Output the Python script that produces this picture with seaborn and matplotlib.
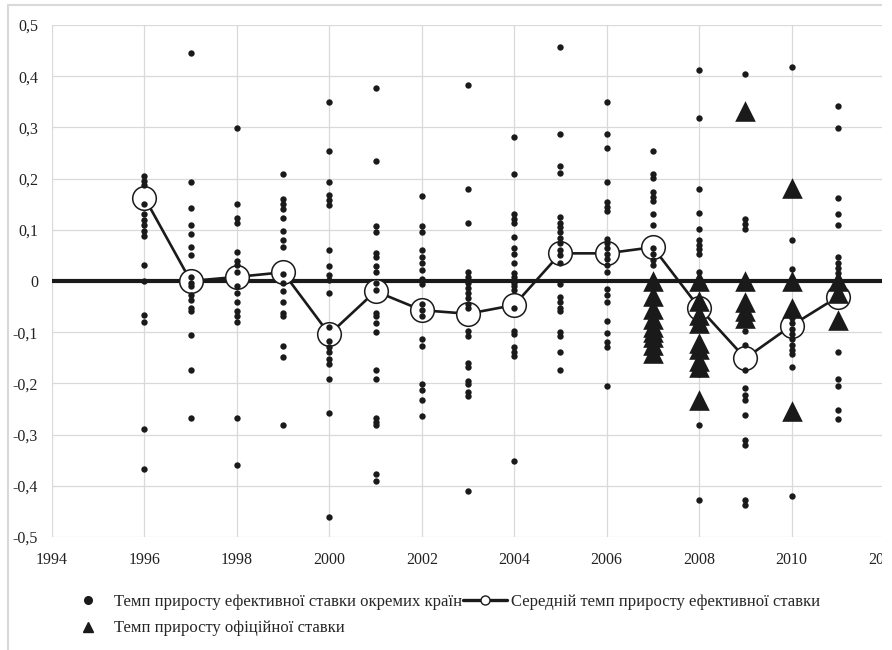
import pandas as pd
import numpy as np
import seaborn as sns
import matplotlib.pyplot as plt
from matplotlib.lines import Line2D
from matplotlib.patches import Rectangle
from matplotlib.ticker import MultipleLocator, FuncFormatter

## Data
# growth rate of the effective rate, individual countries (dots)
r1996 = [0.205, 0.196, 0.187, 0.151, 0.13, 0.119, 0.109, 0.098, 0.088, 0.032, 0.0, -0.066, -0.08, -0.289, -0.368]
r1997 = [0.446, 0.193, 0.142, 0.11, 0.091, 0.067, 0.05, 0.008, -0.003, -0.01, -0.027, -0.038, -0.052, -0.059, -0.106, -0.174, -0.268]
r1998 = [0.299, 0.151, 0.123, 0.114, 0.057, 0.039, 0.032, 0.018, -0.01, -0.024, -0.041, -0.059, -0.069, -0.08, -0.268, -0.359]
r1999 = [0.209, 0.161, 0.151, 0.14, 0.123, 0.098, 0.081, 0.067, 0.013, -0.003, -0.02, -0.041, -0.062, -0.069, -0.127, -0.148, -0.282]
r2000 = [0.349, 0.254, 0.194, 0.168, 0.159, 0.149, 0.061, 0.029, 0.011, 0.001, -0.024, -0.089, -0.118, -0.128, -0.139, -0.153, -0.163, -0.191, -0.258, -0.46]
r2001 = [0.376, 0.234, 0.107, 0.096, 0.054, 0.046, 0.029, 0.018, -0.003, -0.017, -0.062, -0.069, -0.083, -0.1, -0.174, -0.191, -0.268, -0.275, -0.282, -0.376, -0.39]
r2002 = [0.166, 0.107, 0.096, 0.06, 0.047, 0.036, 0.022, 0.004, -0.006, -0.045, -0.057, -0.069, -0.113, -0.127, -0.202, -0.212, -0.232, -0.263]
r2003 = [0.383, 0.18, 0.114, 0.018, 0.008, -0.003, -0.013, -0.024, -0.034, -0.045, -0.052, -0.097, -0.107, -0.16, -0.167, -0.195, -0.202, -0.216, -0.225, -0.41]
r2004 = [0.281, 0.209, 0.13, 0.121, 0.114, 0.086, 0.064, 0.053, 0.036, 0.015, 0.008, -0.003, -0.01, -0.017, -0.052, -0.097, -0.104, -0.128, -0.139, -0.146, -0.352]
r2005 = [0.458, 0.288, 0.224, 0.21, 0.125, 0.114, 0.105, 0.095, 0.084, 0.074, 0.06, 0.05, 0.036, -0.006, -0.031, -0.041, -0.052, -0.059, -0.1, -0.107, -0.139, -0.174]
r2006 = [0.349, 0.288, 0.26, 0.194, 0.154, 0.145, 0.137, 0.082, 0.074, 0.064, 0.053, 0.043, 0.032, 0.018, -0.015, -0.027, -0.041, -0.078, -0.102, -0.12, -0.128, -0.205]
r2007 = [0.253, 0.209, 0.202, 0.173, 0.165, 0.156, 0.13, 0.109, 0.064, 0.052, 0.041, 0.031]
r2008 = [0.412, 0.318, 0.18, 0.132, 0.102, 0.08, 0.07, 0.062, 0.053, 0.018, -0.181, -0.282, -0.428]
r2009 = [0.405, 0.121, 0.112, 0.102, -0.097, -0.125, -0.174, -0.209, -0.223, -0.233, -0.261, -0.31, -0.32, -0.428, -0.437]
r2010 = [0.418, 0.081, 0.024, -0.059, -0.073, -0.083, -0.094, -0.104, -0.114, -0.125, -0.135, -0.142, -0.167, -0.419]
r2011 = [0.341, 0.299, 0.163, 0.131, 0.11, 0.046, 0.036, 0.025, 0.015, 0.004, -0.006, -0.139, -0.191, -0.205, -0.251, -0.269]

# mean growth rate of the effective rate (line with open circles)
years = list(range(1996, 2012))
mean_rate = [0.163, 0.0, 0.008, 0.017, -0.104, -0.02, -0.057, -0.064, -0.047, 0.054, 0.054, 0.066, -0.052, -0.151, -0.087, -0.031]

# growth rate of the official rate (triangles)
o2007 = [0.0, -0.03, -0.055, -0.075, -0.09, -0.1, -0.11, -0.125, -0.14]
o2008 = [0.0, -0.04, -0.066, -0.083, -0.121, -0.132, -0.156, -0.167, -0.233]
o2009 = [0.332, 0.0, -0.041, -0.059, -0.073]
o2010 = [0.182, 0.0, -0.052, -0.254]
o2011 = [0.0, -0.024, -0.076]

lab_dots = 'Темп приросту ефективної ставки окремих країн'
lab_mean = 'Середній темп приросту ефективної ставки'
lab_tri = 'Темп приросту офіційної ставки'

## Build long tables
dot_lists = [r1996, r1997, r1998, r1999, r2000, r2001, r2002, r2003,
             r2004, r2005, r2006, r2007, r2008, r2009, r2010, r2011]
dots = pd.DataFrame([(y, v) for y, vals in zip(years, dot_lists) for v in vals],
                    columns=['year', 'rate'])
tri_lists = {2007: o2007, 2008: o2008, 2009: o2009, 2010: o2010, 2011: o2011}
tris = pd.DataFrame([(y, v) for y, vals in tri_lists.items() for v in vals],
                    columns=['year', 'rate'])
means = pd.DataFrame({'year': years, 'rate': mean_rate})

## Style
sns.set_style('whitegrid')
plt.rcParams['font.family'] = ['Liberation Serif', 'DejaVu Serif']
grid_col = '#d9d9d9'

fig = plt.figure(figsize=(8.92, 6.5), dpi=100)
ax = fig.add_axes([52 / 892, 1 - 537 / 650, 832 / 892, 512 / 650])

ax.axhline(0, color='#1a1a1a', lw=3, zorder=1.5)

sns.lineplot(data=means, x='year', y='rate', ax=ax, color='#1a1a1a', lw=1.9,
             marker='o', markersize=17, markerfacecolor='white',
             markeredgecolor='#1a1a1a', markeredgewidth=1.1, zorder=2)
sns.scatterplot(data=dots, x='year', y='rate', ax=ax, color='#1a1a1a', s=21,
                linewidth=0, zorder=3)
sns.scatterplot(data=tris, x='year', y='rate', ax=ax, color='#1a1a1a', marker='^',
                s=220, linewidth=0, zorder=4)

ax.set_xlim(1994, 2012)
ax.set_ylim(-0.5, 0.5)
ax.xaxis.set_major_locator(MultipleLocator(2))
ax.yaxis.set_major_locator(MultipleLocator(0.1))
ax.yaxis.set_major_formatter(FuncFormatter(
    lambda v, p: '0' if abs(v) < 1e-9 else f'{v:.1f}'.replace('.', ',')))
ax.grid(True, color=grid_col, lw=0.9)
for s in ax.spines.values():
    s.set_visible(False)
ax.tick_params(axis='both', length=0, labelsize=11.5, colors='#222222')
ax.tick_params(axis='y', pad=10)
ax.tick_params(axis='x', pad=11)
ax.set_xlabel('')
ax.set_ylabel('')

## Legend under the plot
h_dot = Line2D([], [], ls='none', marker='o', ms=5.5, color='#1a1a1a')
h_mean = Line2D([], [], color='#1a1a1a', lw=2.4, marker='o', ms=6.5,
                markerfacecolor='white', markeredgecolor='#1a1a1a', markeredgewidth=1)
h_tri = Line2D([], [], ls='none', marker='^', ms=6.5, color='#1a1a1a')
fig.legend([h_dot, h_tri, h_mean], [lab_dots, lab_tri, lab_mean], ncol=2,
           loc='upper left', bbox_to_anchor=(66 / 892, 1 - 594 / 650),
           frameon=False, fontsize=12, handlelength=2.6, handletextpad=0.25,
           columnspacing=0.1, labelspacing=0.62, borderpad=0, borderaxespad=0)

## Outer chart frame (cropped on the right and bottom)
fig.add_artist(Line2D([8 / 892, 8 / 892], [0, 1 - 5 / 650], color=grid_col, lw=1.5))
fig.add_artist(Line2D([8 / 892, 1], [1 - 5 / 650, 1 - 5 / 650], color=grid_col, lw=1.5))
# the source image is cut at x=882 px, white strip after it
fig.add_artist(Rectangle((882 / 892, 0), 10 / 892, 1, transform=fig.transFigure,
                         facecolor='white', edgecolor='none', zorder=10))

plt.savefig('out.png', dpi=100)
